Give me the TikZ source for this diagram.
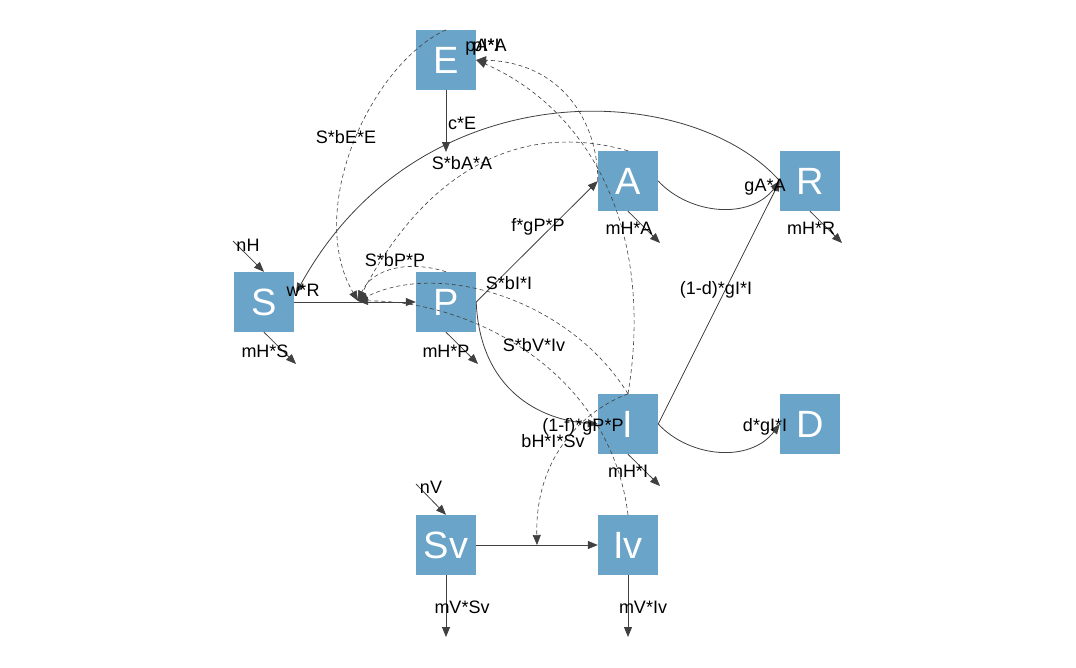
\documentclass[tikz,border=0pt]{standalone}
\usepackage{fontspec}
\setmainfont{Liberation Sans}
\usetikzlibrary{arrows.meta}
\definecolor{boxc}{RGB}{106,164,200}
\definecolor{linec}{RGB}{64,64,64}
\begin{document}
\begin{tikzpicture}[x=1pt,y=-1pt,
  comp/.style={fill=boxc,minimum size=60pt,inner sep=0pt,text=white,font=\fontsize{38}{40}\selectfont},
  lab/.style={inner sep=0pt,font=\fontsize{18}{20}\selectfont},
  flow/.style={draw=linec,line width=0.8pt,-{Triangle[length=10pt,width=8pt]}},
  inter/.style={draw=linec,line width=0.6pt,dash pattern=on 4pt off 3pt,-{Triangle[length=10pt,width=8pt]}},
]
\useasboundingbox (0,0) rectangle (1076,667);
\fill[white] (0,0) rectangle (1076,667);
% compartments
\node[comp] (E) at (446,60) {E};
\node[comp] (A) at (628,181) {A};
\node[comp] (R) at (810,181) {R};
\node[comp] (S) at (264,302) {S};
\node[comp] (P) at (446,302) {P};
\node[comp] (I) at (628,424) {I};
\node[comp] (D) at (810,424) {D};
\node[comp] (Sv) at (446,545) {Sv};
\node[comp] (Iv) at (628,545) {Iv};
% free ends
\coordinate (nHs) at (233,241);
\coordinate (nVs) at (416,484);
\coordinate (mHSe) at (296,364);
\coordinate (mHPe) at (478,364);
\coordinate (mHAe) at (660,243);
\coordinate (mHRe) at (842,243);
\coordinate (mHIe) at (660,486);
\coordinate (mVSe) at (446,637);
\coordinate (mVIe) at (628,637);
\coordinate (cE) at (446,152);
\coordinate (wRe) at (296,293);
\coordinate (mSP) at (358,301);
\coordinate (mSvIv) at (537,545);
% flows
\draw[flow] (nHs) -- (S.north);
\draw[flow] (S.south) -- (mHSe);
\draw[flow] (S.east) -- (P.west);
\draw[flow] (P.south) -- (mHPe);
\draw[flow] (P.east) -- (A.west);
\draw[flow] (P.east) .. controls (480,390) and (540,420) .. (I.west);
\draw[flow] (A.south) -- (mHAe);
\draw[flow] (A.east) .. controls (690,215) and (750,220) .. (R.west);
\draw[flow] (R.south) -- (mHRe);
\draw[flow] (R.west) .. controls (690,80) and (420,68) .. (wRe);
\draw[flow] (I.east) -- (R.west);
\draw[flow] (I.east) .. controls (690,458) and (750,463) .. (D.west);
\draw[flow] (I.south) -- (mHIe);
\draw[flow] (E.south) -- (cE);
\draw[flow] (nVs) -- (Sv.north);
\draw[flow] (Sv.east) -- (Iv.west);
\draw[flow] (Sv.south) -- (mVSe);
\draw[flow] (Iv.south) -- (mVIe);
% interactions
\draw[inter] (E.north) .. controls (370,65) and (305,210) .. (mSP);
\draw[inter] (A.north) .. controls (520,120) and (426,171) .. (mSP);
\draw[inter] (P.north) .. controls (410,260) and (372,268) .. (mSP);
\draw[inter] (I.north) .. controls (570,300) and (440,260) .. (mSP);
\draw[inter] (Iv.north) .. controls (610,370) and (470,300) .. (mSP);
\draw[inter] (I.north) .. controls (585,410) and (535,455) .. (mSvIv);
\draw[inter] (A.west) .. controls (598,120) and (560,62) .. (E.east);
\draw[inter] (I.north) .. controls (655,230) and (590,110) .. (E.east);
% labels
\node[lab] (lnH) at (248,245) {nH};
\node[lab] (lmHS) at (265,351) {mH*S};
\node[lab] (lwR) at (303,290) {w*R};
\node[lab] (lbE) at (346,137) {S*bE*E};
\node[lab] (lcE) at (462,123) {c*E};
\node[lab] (lbA) at (462,163) {S*bA*A};
\node[lab] (lbP) at (395,260) {S*bP*P};
\node[lab] (lmHP) at (446,351) {mH*P};
\node[lab] (lbI) at (509,283) {S*bI*I};
\node[lab] (lbV) at (534,345) {S*bV*Iv};
\node[lab] (lfgP) at (538,227) {f*gP*P};
\node[lab] (lmHA) at (629,228) {mH*A};
\node[lab] (lgA) at (765,187) {gA*A};
\node[lab] (lmHR) at (811,228) {mH*R};
\node[lab] (l1d) at (716,290) {(1-d)*gI*I};
\node[lab] (l1f) at (583,427) {(1-f)*gP*P};
\node[lab] (lbH) at (553,441) {bH*I*Sv};
\node[lab] (ldgI) at (765,427) {d*gI*I};
\node[lab] (lmHI) at (628,471) {mH*I};
\node[lab] (lnV) at (431,487) {nV};
\node[lab] (lmVS) at (462,607) {mV*Sv};
\node[lab] (lmVI) at (643,607) {mV*Iv};
\node[lab] (lpA) at (486,47) {pA*A};
\node[lab] (lpI) at (486,47) {pI*I};
\end{tikzpicture}
\end{document}
